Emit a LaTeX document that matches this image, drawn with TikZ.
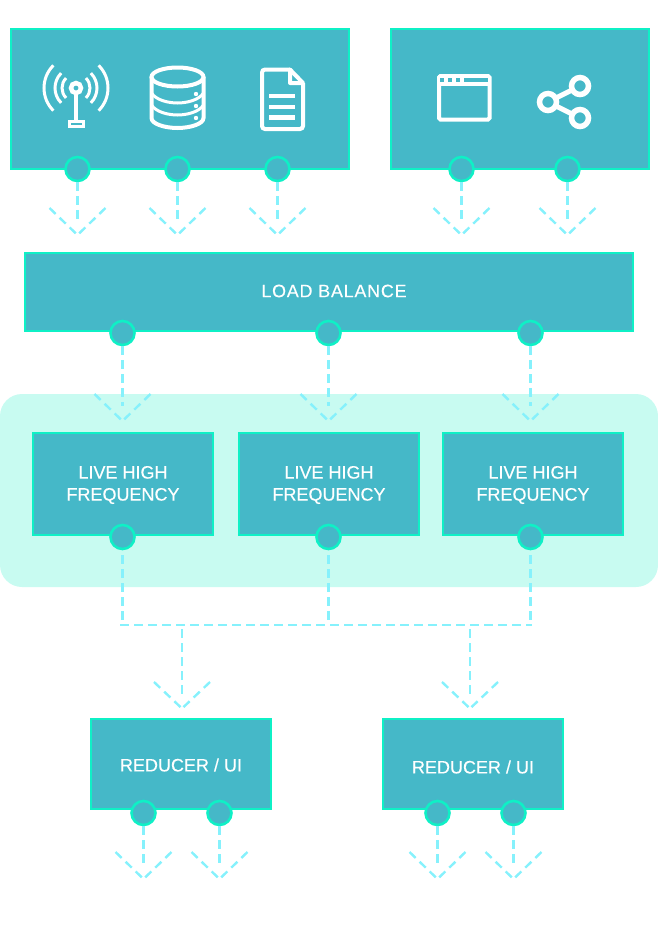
\documentclass[tikz,border=0pt]{standalone}
\usepackage{fontspec}
\setmainfont{Liberation Sans}
\definecolor{boxfill}{HTML}{45B8C8}
\definecolor{boxline}{HTML}{0FF0C6}
\definecolor{flowline}{HTML}{86F1FC}
\definecolor{panelfill}{HTML}{C8FBF1}
\begin{document}
\begin{tikzpicture}[x=1pt,y=-1pt]

\tikzstyle{box}=[draw=boxline,fill=boxfill,line width=2.4pt,inner sep=0pt]
\tikzstyle{caption}=[text=white,align=center,inner sep=0pt,font=\fontsize{18}{22}\selectfont\addfontfeature{FakeBold=0.2}]
\tikzstyle{port}=[circle,draw=boxline,fill=boxfill,line width=2.6pt,minimum size=24pt,inner sep=0pt]
\tikzstyle{flow}=[draw=flowline,line width=2.4pt,dash pattern=on 8.5pt off 5.5pt]
\tikzstyle{icon}=[draw=white,line width=4pt]

\useasboundingbox (0,0) rectangle (658,930);

\node[fill=panelfill,rounded corners=22pt,minimum width=658pt,minimum height=193pt,inner sep=0pt] (panel) at (329,490.5) {};

\node[box,minimum width=338pt,minimum height=140pt] (sources) at (180,99) {};
\node[box,minimum width=258pt,minimum height=140pt] (clients) at (520,99) {};
\node[box,minimum width=608pt,minimum height=78pt] (balance) at (329,292) {};
\node[box,minimum width=180pt,minimum height=102pt] (liveA) at (123,484) {};
\node[box,minimum width=180pt,minimum height=102pt] (liveB) at (329,484) {};
\node[box,minimum width=180pt,minimum height=102pt] (liveC) at (533,484) {};
\node[box,minimum width=180pt,minimum height=90pt] (reducerA) at (181,764) {};
\node[box,minimum width=180pt,minimum height=90pt] (reducerB) at (473,764) {};

\node[caption,font=\fontsize{18}{22}\selectfont\addfontfeature{FakeBold=0.2,LetterSpace=4}] (balanceText) at (334,291) {LOAD BALANCE};
\node[caption] (liveAText) at (123,485) {LIVE HIGH\\FREQUENCY};
\node[caption] (liveBText) at (329,485) {LIVE HIGH\\FREQUENCY};
\node[caption] (liveCText) at (533,485) {LIVE HIGH\\FREQUENCY};
\node[caption] (reducerAText) at (181,765) {REDUCER / UI};
\node[caption] (reducerBText) at (473,767) {REDUCER / UI};

% ports and their arrows
\foreach \name/\x/\y/\len in {a/77.5/169/66,b/177.5/169/66,c/277.5/169/66,d/461.5/169/66,e/567.5/169/66,f/122.5/333/88,g/328.5/333/88,h/530.5/333/88,i/143.5/813/66,j/219.5/813/66,k/437.5/813/66,l/513.5/813/66}{
  \node[port] (port\name) at (\x,\y) {};
  \coordinate (tip\name) at (\x,{\y+\len});
  \coordinate (end\name) at (\x,{\y+\len-15});
  \coordinate (wingl\name) at ({\x-28},{\y+\len-27});
  \coordinate (wingr\name) at ({\x+28},{\y+\len-27});
  \draw[flow] (port\name) -- (end\name);
  \draw[flow] (wingl\name) -- (tip\name);
  \draw[flow] (wingr\name) -- (tip\name);
}

% live outputs joined together
\foreach \name/\x in {m/122.5,n/328.5,o/530.5}{
  \node[port] (port\name) at (\x,537) {};
  \coordinate (join\name) at (\x,622);
  \draw[flow,dash phase=9pt] (port\name) -- (join\name);
}
\coordinate (joinleft) at (120,625);
\coordinate (joinright) at (532,625);
\draw[flow] (joinleft) -- (joinright);
\foreach \name/\x in {p/182,q/470}{
  \coordinate (join\name) at (\x,625);
  \coordinate (tip\name) at (\x,708.5);
  \coordinate (end\name) at (\x,694);
  \coordinate (wingl\name) at (\x-28,682);
  \coordinate (wingr\name) at (\x+28,682);
  \draw[flow,dash phase=10pt] (join\name) -- (end\name);
  \draw[flow] (wingl\name) -- (tip\name);
  \draw[flow] (wingr\name) -- (tip\name);
}

% antenna
\draw[icon,line width=4.5pt] (76,88) circle (5);
\draw[icon] (76,93) -- (76,122);
\draw[icon,line width=3pt] (69,121.5) rectangle (83,126.5);
\foreach \r in {14,21,32}{
  \draw[icon,line width=3pt] ({76+\r*cos(135)},{88-\r*sin(135)}) arc[start angle=-135,end angle=-225,radius=\r] ;
  \draw[icon,line width=3pt] ({76+\r*cos(45)},{88-\r*sin(45)}) arc[start angle=-45,end angle=45,radius=\r];
}

% database
\draw[icon] (177.5,77) ellipse (26 and 9.5);
\draw[icon] (151.5,77) -- (151.5,118) .. controls (151.5,124) and (165,128) .. (177.5,128) .. controls (190,128) and (203.5,124) .. (203.5,118) -- (203.5,77);
\draw[icon,line width=3pt] (151.5,93) .. controls (156,100) and (168,103) .. (177.5,103) .. controls (187,103) and (199,100) .. (203.5,93);
\draw[icon,line width=3pt] (151.5,105) .. controls (156,112) and (168,115) .. (177.5,115) .. controls (187,115) and (199,112) .. (203.5,105);
\foreach \y in {94,106,118} \fill[white] (196,\y) circle (2.2);

% document
\draw[icon,rounded corners=3pt] (290,69.5) -- (262,69.5) -- (262,129) -- (303,129) -- (303,83);
\draw[icon,line join=round] (290,69.5) -- (303,83) -- (290,83) -- cycle;
\foreach \y in {96,107,117.5} \draw[icon,line width=4.5pt] (269,\y) -- (295,\y);

% window
\draw[icon,line width=4pt,rounded corners=1.5pt] (439,76) rectangle (489.5,119.5);
\fill[white] (438,75) rectangle (490,85.5);
\foreach \x in {440,448,456} \fill[boxfill] (\x,78) rectangle (\x+4,82);
\fill[boxfill] (464,78) rectangle (488,82);

% share
\draw[icon,line width=5pt] (556,98) -- (572,90);
\draw[icon,line width=5pt] (556,106) -- (572,114);
\draw[icon,line width=5.5pt] (548,102) circle (8.5);
\draw[icon,line width=5.5pt] (580,86) circle (8.5);
\draw[icon,line width=5.5pt] (580,118) circle (8.5);

\end{tikzpicture}
\end{document}
